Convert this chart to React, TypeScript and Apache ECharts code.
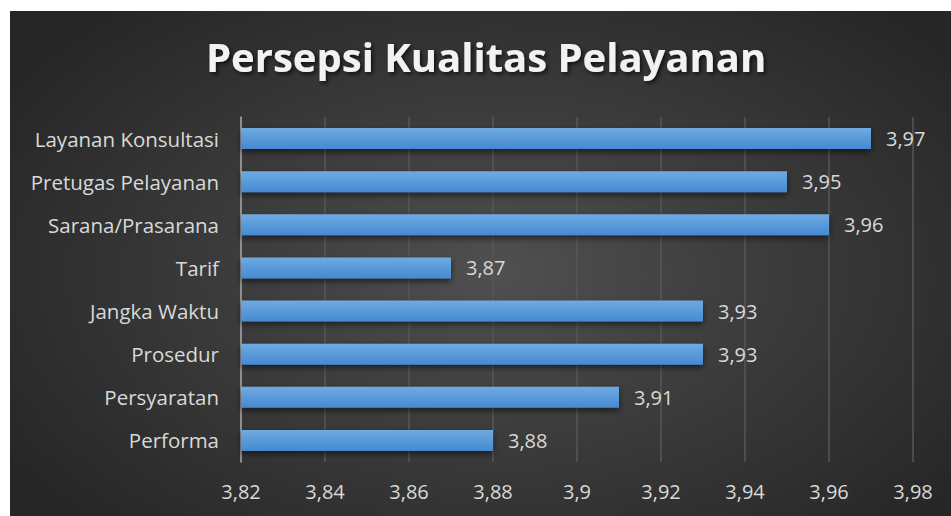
import React, { useEffect, useRef } from "react";
import * as echarts from "echarts";

const categories = [
  "Layanan Konsultasi",
  "Pretugas Pelayanan",
  "Sarana/Prasarana",
  "Tarif",
  "Jangka Waktu",
  "Prosedur",
  "Persyaratan",
  "Performa",
];
const values = [3.97, 3.95, 3.96, 3.87, 3.93, 3.93, 3.91, 3.88];
const axisMin = 3.82;
const axisMax = 3.98;
const axisStep = 0.02;
const titleText = "Persepsi Kualitas Pelayanan";

const fmt = (v: number) => String(parseFloat(Number(v).toFixed(2))).replace(".", ",");

export default function App() {
  const ref = useRef<HTMLDivElement>(null);
  useEffect(() => {
    if (!ref.current) return;
    const chart = echarts.init(ref.current, undefined, { renderer: "svg" });
    chart.setOption({
      animation: false,
      backgroundColor: "transparent",
      title: {
        text: titleText,
        left: 191,
        top: 20,
        textStyle: {
          fontFamily: "Open Sans",
          fontWeight: "bold",
          fontSize: 40,
          color: "#f2f2f2",
          textShadowColor: "rgba(0,0,0,0.7)",
          textShadowBlur: 4,
          textShadowOffsetX: 2,
          textShadowOffsetY: 2,
        },
      },
      grid: { left: 231, right: 38, top: 106, bottom: 54, containLabel: false },
      xAxis: {
        type: "value",
        min: axisMin,
        max: axisMax,
        interval: axisStep,
        axisLine: { show: false },
        axisTick: { show: false },
        splitLine: { show: true, lineStyle: { color: "#575757", width: 1.5 } },
        axisLabel: {
          color: "#d9d9d9",
          fontFamily: "Open Sans",
          fontSize: 20,
          margin: 19,
          formatter: (v: number) => fmt(v),
        },
      },
      yAxis: {
        type: "category",
        inverse: true,
        data: categories,
        axisLine: { show: true, lineStyle: { color: "#a6a6a6", width: 1.5 } },
        axisTick: { show: false },
        axisLabel: {
          color: "#d9d9d9",
          fontFamily: "Open Sans",
          fontSize: 20.5,
          margin: 22,
        },
      },
      series: [
        {
          type: "bar",
          data: values,
          barWidth: 21,
          itemStyle: {
            color: new echarts.graphic.LinearGradient(0, 0, 0, 1, [
              { offset: 0, color: "#6fabe2" },
              { offset: 1, color: "#4589d1" },
            ]),
            shadowColor: "rgba(0,0,0,0.55)",
            shadowBlur: 6,
            shadowOffsetY: 3,
          },
          label: {
            show: true,
            position: "right",
            distance: 15,
            color: "#d9d9d9",
            fontFamily: "Open Sans",
            fontSize: 20,
            formatter: (p: any) => fmt(p.value),
          },
        },
      ],
    });
    return () => chart.dispose();
  }, []);
  return (
    <div style={{ position: "absolute", left: 0, top: 0, width: 951, height: 516, background: "#ffffff" }}>
      <div
        ref={ref}
        style={{
          position: "absolute",
          left: 10,
          top: 11,
          width: 941,
          height: 505,
          background: "radial-gradient(ellipse 62% 70% at 52% 52%, #505050 0%, #3c3c3c 45%, #262626 100%)",
        }}
      />
    </div>
  );
}
